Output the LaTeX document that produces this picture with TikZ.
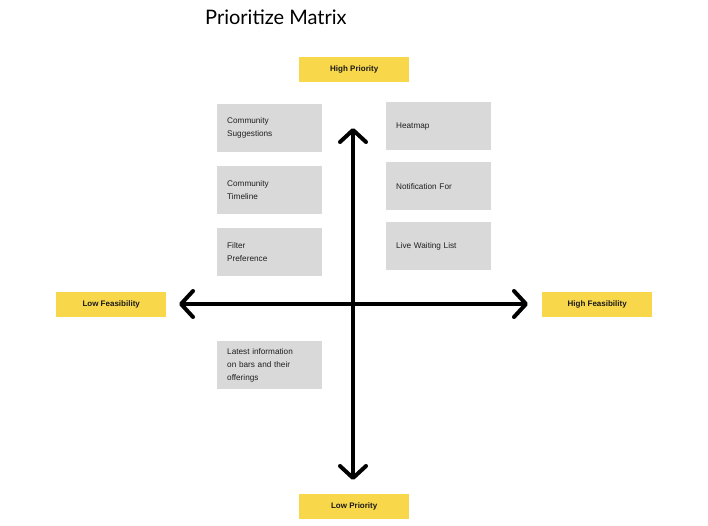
\documentclass[tikz,border=0pt]{standalone}
\usepackage{fontspec}
\setmainfont{Liberation Sans}
\newfontfamily\titlefont{Lato}
\usetikzlibrary{arrows.meta}
\definecolor{boxgray}{HTML}{D9D9D9}
\definecolor{labelyellow}{HTML}{F9D74A}
\tikzset{
  gbox/.style={fill=boxgray, anchor=north west, minimum height=48pt, text width=85pt,
    inner xsep=10pt, inner ysep=0pt, align=left, font=\fontsize{8.2}{13}\selectfont, text=black!88},
  ybox/.style={fill=labelyellow, anchor=north west, minimum width=110pt, minimum height=25pt,
    inner sep=0pt, font=\fontsize{8}{10}\selectfont\bfseries, text=black!90},
  axis/.style={line width=4pt, {Straight Barb[length=12pt,width=26pt,round]}-{Straight Barb[length=12pt,width=26pt,round]}}
}
\begin{document}
\begin{tikzpicture}[x=1pt,y=-1pt]
\useasboundingbox (0,0) rectangle (708,526);
\node[anchor=base west, inner sep=0pt] (title) at (205,25) {\titlefont\fontsize{20}{24}\selectfont Prioritize Matrix};
% axis labels
\node[ybox] (hp) at (299,57) {High Priority};
\node[ybox] (lp) at (299,494) {Low Priority};
\node[ybox] (lf) at (56,292) {Low Feasibility};
\node[ybox] (hf) at (542,292) {High Feasibility};
% axes
\coordinate (top) at (353,128);
\coordinate (bot) at (353,480);
\coordinate (lft) at (179,304);
\coordinate (rgt) at (528,304);
\draw[axis] (lft) -- (rgt);
\draw[axis] (bot) -- (top);
% boxes
\node[gbox] (cs) at (217,104) {Community\\Suggestions};
\node[gbox] (ct) at (217,166) {Community\\Timeline};
\node[gbox] (fp) at (217,228) {Filter\\Preference};
\node[gbox] (hm) at (386,102) {Heatmap};
\node[gbox] (nf) at (386,162) {Notification For};
\node[gbox] (lw) at (386,222) {Live Waiting List};
\node[gbox] (li) at (217,341) {Latest information\\on bars and their\\offerings};
\end{tikzpicture}
\end{document}
